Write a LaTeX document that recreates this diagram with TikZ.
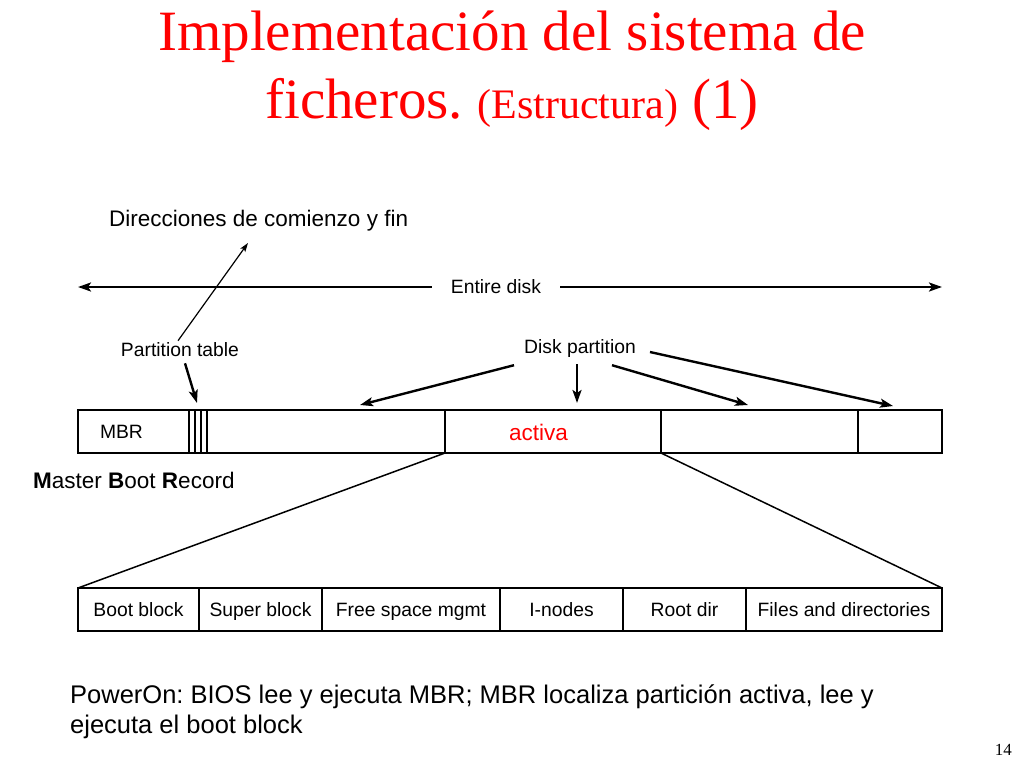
\documentclass[tikz,border=0pt]{standalone}
\usepackage{fontspec}
\setmainfont{Liberation Sans}
\newfontfamily\titlefont{Liberation Serif}
\usepackage{tikz}
\usetikzlibrary{shapes,arrows.meta,positioning}
\usepackage{xcolor}
\definecolor{titlered}{HTML}{FF0000}
\frenchspacing

\begin{document}
\begin{tikzpicture}[
                    x=1pt, y=1pt,
                    title/.style={anchor=base, inner sep=0pt, text=titlered, font=\titlefont\fontsize{57}{60}\selectfont},
                    note/.style={inner sep=0pt, font=\fontsize{22.5}{27}\selectfont},
                    lbl/.style={inner sep=2pt, font=\fontsize{19.3}{23}\selectfont},
                    seg/.style={rectangle, draw, line width=1.8pt, outer sep=0pt, inner sep=0pt, minimum height=43pt, text height=16pt, text depth=2pt, text centered, font=\fontsize{19.3}{23}\selectfont},
                    arrow/.style={-{Stealth[length=13pt, width=9pt, inset=3pt]}, line width=2.4pt},
                    thinarrow/.style={-{Stealth[length=9pt, width=6pt, inset=2pt]}, line width=1.2pt},
                    edge/.style={line width=1.5pt}
                ]
                    \useasboundingbox (0,0) rectangle (1024,-768);

                    \node[title] (t1) at (512,-51) {Implementación del sistema de};
                    \node[title] (t2) at (512,-118) {ficheros. {\fontsize{42}{44}\selectfont(Estructura)} (1)};

                    \node[note, anchor=base west] (dir) at (109,-226) {Direcciones de comienzo y fin};

                    \node[lbl, inner xsep=19pt] (entire) at (496,-287) {Entire disk};
                    \coordinate (diskL) at (78,-287);
                    \coordinate (diskR) at (942,-287);
                    \draw[arrow] (entire.west) -- (diskL);
                    \draw[arrow] (entire.east) -- (diskR);

                    \node[seg, minimum width=111pt, anchor=north west, inner xsep=22pt, text width=67pt, align=left] (mbr) at (78,-410) {MBR};
                    \node[seg, minimum width=6pt, right=0pt of mbr] (pt1) {};
                    \node[seg, minimum width=6pt, right=0pt of pt1] (pt2) {};
                    \node[seg, minimum width=6pt, right=0pt of pt2] (pt3) {};
                    \node[seg, minimum width=238pt, right=0pt of pt3] (part1) {};
                    \node[seg, minimum width=216pt, right=0pt of part1, inner xsep=64pt, text width=88pt, align=left, text height=18pt, text depth=0pt, text=titlered, font=\fontsize{22.5}{27}\selectfont] (part2) {activa};
                    \node[seg, minimum width=197pt, right=0pt of part2] (part3) {};
                    \node[seg, minimum width=84pt, right=0pt of part3] (part4) {};

                    \node[lbl] (ptab) at (180,-350) {Partition table};
                    \coordinate (dirtip) at (248,-243);
                    \coordinate (ptabtip) at (197,-403);
                    \draw[thinarrow] ([xshift=-2pt]ptab.north) -- (dirtip);
                    \draw[arrow] ([xshift=5pt,yshift=-4pt]ptab.south) -- (ptabtip);

                    \node[lbl] (dpart) at (580,-349) {Disk partition};
                    \coordinate (tip1) at (360,-405);
                    \coordinate (tip2) at (577,-403);
                    \coordinate (tip3) at (748,-405);
                    \coordinate (tip4) at (893,-406);
                    \draw[arrow] ([xshift=-8pt,yshift=-5pt]dpart.south west) -- (tip1);
                    \draw[arrow] ([xshift=-3pt,yshift=-4pt]dpart.south) -- (tip2);
                    \draw[arrow] ([xshift=32pt,yshift=-5pt]dpart.south) -- (tip3);
                    \draw[arrow] ([xshift=12pt,yshift=-3pt]dpart.east) -- (tip4);

                    \node[note, anchor=base west] (mbrname) at (33,-488) {\textbf{M}aster \textbf{B}oot \textbf{R}ecord};

                    \node[seg, minimum width=121pt, anchor=north west] (boot) at (78,-588) {Boot block};
                    \node[seg, minimum width=123pt, right=0pt of boot] (super) {Super block};
                    \node[seg, minimum width=178pt, right=0pt of super] (free) {Free space mgmt};
                    \node[seg, minimum width=123pt, right=0pt of free] (inodes) {I-nodes};
                    \node[seg, minimum width=123pt, right=0pt of inodes] (root) {Root dir};
                    \node[seg, minimum width=196pt, right=0pt of root] (files) {Files and directories};

                    \draw[edge] (part2.south west) -- (boot.north west);
                    \draw[edge] (part2.south east) -- (files.north east);

                    \node[inner sep=0pt, anchor=base west, align=left, font=\fontsize{25.5}{30}\selectfont] (boottext) at (70,-733) {PowerOn: BIOS lee y ejecuta MBR; MBR localiza partición activa, lee y\\ejecuta el boot block};

                    \node[inner sep=0pt, anchor=base east, font=\titlefont\fontsize{17}{20}\selectfont] (pagenum) at (1012,-755) {14};
                \end{tikzpicture}
\end{document}
